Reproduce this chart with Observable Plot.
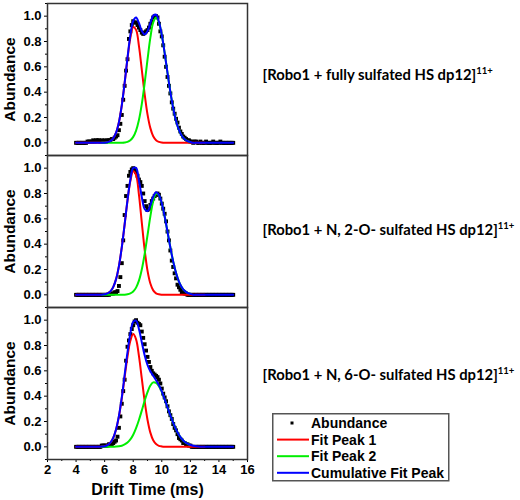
<!DOCTYPE html>
<html><head><meta charset="utf-8">
<script src="https://cdn.jsdelivr.net/npm/d3@7"></script>
<script src="https://cdn.jsdelivr.net/npm/@observablehq/plot@0.6"></script>
<style>
body{margin:0;background:#fff;}
#wrap{position:relative;width:520px;height:500px;overflow:hidden;}
#legend{position:absolute;left:272px;top:413px;}
</style></head><body><div id="wrap"><div id="chart"></div><div id="legend"></div></div>
<script>
// ---- categories / labels ----
const panels = ["p1", "p2", "p3"];
const panelLabels = ["[Robo1 + fully sulfated HS dp12]", "[Robo1 + N, 2-O- sulfated HS dp12]", "[Robo1 + N, 6-O- sulfated HS dp12]"];
const chargeLabel = "11+";
const xTicks = [2, 4, 6, 8, 10, 12, 14, 16];
const xMinorTicks = [3, 5, 7, 9, 11, 13, 15];
const yTicks = [0, 0.2, 0.4, 0.6, 0.8, 1.0];
const yMinorTicks = [-0.1, 0.1, 0.3, 0.5, 0.7, 0.9, 1.1];
const seriesNames = ["Abundance", "Fit Peak 1", "Fit Peak 2", "Cumulative Fit Peak"];
const seriesColors = ["#000000", "#ff0000", "#00ee00", "#0000ff"];

// ---- measured abundance: drift-time bins from 4.0 ms, every 0.1 ms ----
const dataStart = 4.0, dataStep = 0.1;
const abundance1 = [0,0,0,0,0,0,0,0,
  .01,.01,.01,.01,.02,.01,.02,.02,.02,.01,.02,.01,.02,.01,.02,.02,
  .02,.03,.03,.04,.05,.06,.10,.15,.22,.34,.45,.57,.66,.82,.88,.93,.96,.95,.95,.93,.91,.89,.87,.86,.87,.88,.89,.91,.94,.96,.99,1.00,1.00,.99,.94,.88,.84,.77,.68,.60,.52,.45,.39,.32,.27,.23,.19,.16,.12,.09,.07,.05,.04,.03,.02,.02,.01,
  .01,0,.01,.01,0,0,.01,0,0,0,.01,0,0,0,0,.01,0,0,0,0,.01,0,0,0,0,0,0,0,0,0];
const abundance2 = [0,0,0,0,0,0,0,0,0,0,0,0,0,0,0,0,0,0,0,0,0,0,0,0,
  .01,.01,.01,.02,.02,.03,.07,.14,.25,.43,.63,.78,.86,.94,.97,.99,1.00,.99,.97,.94,.91,.89,.86,.80,.74,.70,.67,.68,.71,.74,.76,.78,.79,.80,.79,.76,.72,.68,.64,.58,.50,.43,.35,.27,.22,.17,.13,.08,.06,.04,.02,.02,.01,.01,
  0,0,0,0,0,0,0,0,0,0,0,0,0,0,0,0,0,0,0,0,0,0,0,0,0,0,0,0,0,0,0,0,0];
const abundance3 = [0,0,0,0,0,0,0,0,0,0,0,0,0,0,0,0,0,0,
  .01,.01,.01,.01,.01,.02,.02,.02,.03,.04,.05,.08,.15,.24,.34,.44,.53,.68,.79,.84,.89,.93,.96,.99,1.00,.98,.97,.96,.91,.86,.81,.76,.71,.67,.63,.60,.58,.57,.56,.55,.53,.50,.46,.42,.39,.36,.32,.28,.25,.22,.18,.15,.13,.10,.07,.06,.05,.03,.03,.02,.02,.01,.01,
  0,0,0,0,0,0,0,0,0,0,0,0,0,0,0,0,0,0,0,0,0,0,0,0,0,0,0,0,0,0];

// ---- fitted curves, read every 0.2 ms ----
const fitStep = 0.2;
const peak1Start = 4.0, peak2Start = 5.8, cumStart = 4.0;
const peak1_1 = [0,0,0,0,0,0,0,0,0,0,.001,.005,.013,.035,.080,.163,.295,.471,.664,.829,.915,.892,.765,.578,.385,.225,.116,.052,.021,.007,.002,0,0,0,0,0,0,0,0,0,0,0,0,0,0,0];
const peak2_1 = [0,0,0,0,0,0,0,.001,.003,.008,.021,.047,.097,.181,.306,.471,.656,.830,.951,.990,.949,.850,.710,.553,.402,.273,.173,.102,.056,.029,.014,.006];
const cum_1 = [0,0,0,0,0,0,0,0,0,0,.001,.005,.013,.035,.080,.163,.296,.474,.672,.850,.962,.989,.946,.884,.856,.881,.946,1.003,1.011,.956,.852,.710,.553,.402,.273,.173,.102,.056,.029,.014,.006,0,0,0,0,0,0,0,0,0,0,0,0,0,0,0];
const peak1_2 = [0,0,0,0,0,0,0,0,0,0,.004,.011,.027,.061,.124,.227,.375,.556,.744,.898,.975,.945,.791,.572,.356,.191,.089,.035,.012,.004,.001,0,0,0,0,0,0,0,0,0,0,0,0,0,0,0];
const peak2_2 = [0,0,0,0,0,0,0,0,.001,.004,.011,.026,.057,.112,.200,.322,.470,.620,.739,.797,.785,.721,.620,.498,.374,.262,.172,.105,.060,.032,.016,.008];
const cum_2 = [0,0,0,0,0,0,0,0,0,0,.004,.011,.027,.061,.124,.227,.375,.557,.748,.909,1.001,1.002,.903,.772,.678,.661,.709,.774,.809,.789,.722,.620,.498,.374,.262,.172,.105,.060,.032,.016,.008,0,0,0,0,0,0,0,0,0,0,0,0,0,0,0];
const peak1_3 = [0,0,0,0,0,0,0,0,0,.002,.005,.014,.033,.070,.137,.240,.382,.549,.713,.837,.890,.848,.718,.540,.360,.214,.112,.052,.022,.008,.003,0,0,0,0,0,0,0,0,0,0,0,0,0,0,0];
const peak2_3 = [0,0,0,0,.001,.002,.004,.009,.019,.034,.059,.096,.148,.212,.286,.363,.432,.484,.509,.504,.478,.434,.377,.312,.248,.189,.137,.095,.063,.040,.025,.014];
const cum_3 = [0,0,0,0,0,0,0,0,0,.002,.005,.014,.033,.071,.139,.244,.391,.568,.747,.896,.986,.996,.930,.826,.723,.646,.596,.561,.526,.486,.437,.377,.312,.248,.189,.137,.095,.063,.040,.025,.014,.008,.004,.002,0,0,0,0,0,0,0,0,0,0,0,0];

// ---- assemble tables ----
const points = [];
[abundance1, abundance2, abundance3].forEach((arr, k) =>
  arr.forEach((v, i) => points.push({panel: panels[k], x: +(dataStart + i * dataStep).toFixed(2), y: v})));
const fits = [];
function addFit(k, series, start, arr) {
  arr.forEach((v, i) => fits.push({panel: panels[k], series, x: +(start + i * fitStep).toFixed(2), y: v}));
}
[[peak1_1, peak2_1, cum_1], [peak1_2, peak2_2, cum_2], [peak1_3, peak2_3, cum_3]].forEach((s, k) => {
  addFit(k, seriesNames[1], peak1Start, s[0]);
  addFit(k, seriesNames[2], peak2Start, s[1]);
  addFit(k, seriesNames[3], cumStart, s[2]);
});

const fitLine = (name, color) => Plot.line(fits.filter(d => d.series === name),
  {x: "x", y: "y", fy: "panel", stroke: color, strokeWidth: 2, curve: "catmull-rom"});

const labelOffsets = [-4, -1, -8];
const labelMarks = panels.map((p, i) => Plot.text([{panel: p, label: panelLabels[i]}], {
  fy: "panel", text: "label", frameAnchor: "right", textAnchor: "start", lineAnchor: "middle",
  dx: 15, dy: labelOffsets[i], fontSize: 14.8, fontFamily: "Lato, 'Open Sans', sans-serif", fontWeight: "bold"}));

const chart = Plot.plot({
  width: 520, height: 500,
  marginLeft: 47, marginRight: 273, marginTop: 2, marginBottom: 40,
  x: {domain: [2, 16]},
  y: {domain: [-0.1, 1.1]},
  fy: {domain: panels, axis: null, padding: 0},
  style: {fontFamily: "'Liberation Sans', Arial, sans-serif", fontWeight: "bold", fontSize: "13px", color: "black", background: "white"},
  marks: [
    Plot.axisY({ticks: yMinorTicks, tickSize: 2, tickFormat: () => "", label: null}),
    Plot.axisY({ticks: yTicks, tickSize: 3, tickPadding: 3, tickFormat: d3.format(".1f"), label: null}),
    Plot.axisX({ticks: xMinorTicks, tickSize: 2, tickFormat: () => "", label: null}),
    Plot.axisX({ticks: xTicks, tickSize: 3, tickPadding: 2, tickFormat: d3.format("d"), label: null}),
    Plot.dot(points, {x: "x", y: "y", fy: "panel", symbol: "square", r: 2.2, fill: "black", stroke: "none"}),
    fitLine(seriesNames[1], seriesColors[1]),
    fitLine(seriesNames[2], seriesColors[2]),
    fitLine(seriesNames[3], seriesColors[3]),
    Plot.frame({stroke: "#333", strokeWidth: 1.5}),
    Plot.text(["Abundance"], {frameAnchor: "left", textAnchor: "middle", lineAnchor: "middle", rotate: -90, dx: -37, fontSize: 15.5, fontWeight: "bold"}),
    ...labelMarks,
    Plot.text([{panel: "p3"}], {fy: "panel", text: () => "Drift Time (ms)", frameAnchor: "bottom", lineAnchor: "middle", dy: 30, fontSize: 16, fontWeight: "bold"})
  ]
});
document.getElementById("chart").append(chart);

// superscript charge state on panel labels
d3.select(chart).selectAll("text").filter(function () { return this.textContent.startsWith("["); })
  .each(function () {
    d3.select(this).append("tspan").attr("dy", "-6").attr("font-size", 9.5).text(chargeLabel);
  });

// legend
const lg = d3.select("#legend").append("svg").attr("width", 178).attr("height", 69)
  .style("font-family", "'Liberation Sans', Arial, sans-serif").style("font-weight", "bold").style("font-size", "14px");
lg.append("rect").attr("x", 0.75).attr("y", 0.75).attr("width", 176).attr("height", 67)
  .attr("fill", "white").attr("stroke", "#555").attr("stroke-width", 1.5);
seriesNames.forEach((name, i) => {
  const cy = 10 + i * 16.6;
  if (i === 0) {
    lg.append("rect").attr("x", 18.5).attr("y", cy - 1.5).attr("width", 3).attr("height", 3).attr("fill", seriesColors[0]);
  } else {
    lg.append("line").attr("x1", 5).attr("x2", 37).attr("y1", cy).attr("y2", cy)
      .attr("stroke", seriesColors[i]).attr("stroke-width", 2);
  }
  lg.append("text").attr("x", 39).attr("y", cy).attr("dy", "0.36em").text(name);
});
</script></body></html>
